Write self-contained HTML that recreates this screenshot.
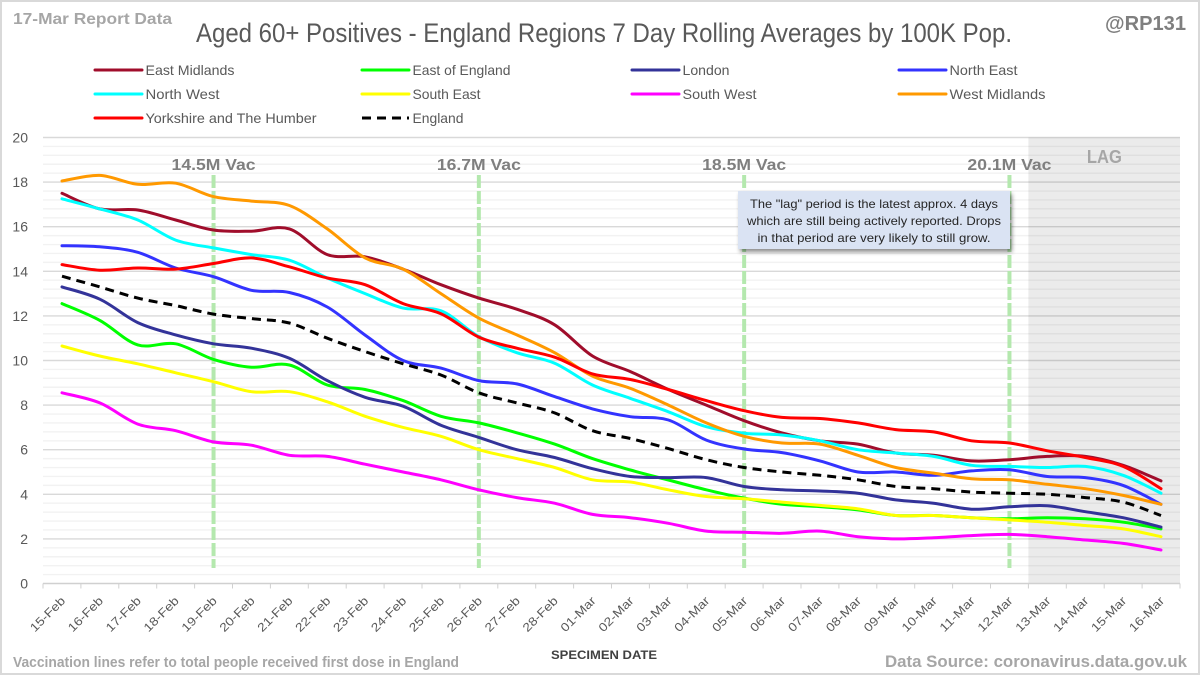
<!DOCTYPE html>
<html lang="en">
<head>
<meta charset="utf-8">
<title>Aged 60+ Positives - England Regions</title>
<style>
html,body{margin:0;padding:0;background:#fff;width:1200px;height:675px;overflow:hidden}
svg{display:block}
text{font-family:"Liberation Sans",sans-serif}
</style>
</head>
<body>
<svg id="chart" xmlns="http://www.w3.org/2000/svg" width="1200" height="675" viewBox="0 0 1200 675">
  <defs>
    <filter id="soft" x="-20%" y="-20%" width="140%" height="140%"><feGaussianBlur stdDeviation="2"/></filter>
    <filter id="boxshadow" x="-10%" y="-20%" width="120%" height="150%"><feGaussianBlur stdDeviation="2"/></filter>
  </defs>
  <rect x="1" y="1" width="1198" height="673" fill="#fff" stroke="#d9d9d9" stroke-width="2"/>
  <g id="grid"></g>
  <g id="lag"></g>
  <g id="axes"></g>
  <g id="vac"></g>
  <g id="series"></g>

  <text x="13" y="24" font-size="16" font-weight="bold" fill="#a6a6a6" textLength="159" lengthAdjust="spacingAndGlyphs">17-Mar Report Data</text>
  <text x="196" y="42" font-size="27" fill="#595959" textLength="816" lengthAdjust="spacingAndGlyphs">Aged 60+ Positives - England Regions 7 Day Rolling Averages by 100K Pop.</text>
  <text x="1186" y="30" text-anchor="end" font-size="20" font-weight="bold" fill="#7f7f7f" textLength="81" lengthAdjust="spacingAndGlyphs">@RP131</text>

  <g id="legend"></g>

  <g>
    <rect x="740" y="194" width="272" height="58" fill="#000" opacity="0.45" filter="url(#boxshadow)"/>
    <rect x="738" y="191" width="272" height="58" fill="#dae3f3"/>
    <text x="874" y="208" text-anchor="middle" font-size="12" fill="#262626" textLength="248" lengthAdjust="spacingAndGlyphs">The "lag" period is the latest approx. 4 days</text>
    <text x="874" y="225" text-anchor="middle" font-size="12" fill="#262626" textLength="254" lengthAdjust="spacingAndGlyphs">which are still being actively reported. Drops</text>
    <text x="874" y="242" text-anchor="middle" font-size="12" fill="#262626" textLength="233" lengthAdjust="spacingAndGlyphs">in that period are very likely to still grow.</text>
  </g>

  <text x="604" y="659" text-anchor="middle" font-size="12" font-weight="bold" fill="#404040" textLength="106" lengthAdjust="spacingAndGlyphs">SPECIMEN DATE</text>
  <text x="13" y="667" font-size="14.5" font-weight="bold" fill="#a6a6a6" textLength="446" lengthAdjust="spacingAndGlyphs">Vaccination lines refer to total people received first dose in England</text>
  <text x="1187" y="667" text-anchor="end" font-size="17" font-weight="bold" fill="#a6a6a6" textLength="302" lengthAdjust="spacingAndGlyphs">Data Source: coronavirus.data.gov.uk</text>
</svg>
<script>
const dates = ["15-Feb","16-Feb","17-Feb","18-Feb","19-Feb","20-Feb","21-Feb","22-Feb","23-Feb","24-Feb","25-Feb","26-Feb","27-Feb","28-Feb","01-Mar","02-Mar","03-Mar","04-Mar","05-Mar","06-Mar","07-Mar","08-Mar","09-Mar","10-Mar","11-Mar","12-Mar","13-Mar","14-Mar","15-Mar","16-Mar"];
const yTicks = [0,2,4,6,8,10,12,14,16,18,20];
const eastMidlands = [17.5,16.8,16.75,16.3,15.85,15.8,15.9,14.75,14.65,14.1,13.4,12.8,12.3,11.6,10.2,9.5,8.7,8.0,7.3,6.75,6.4,6.25,5.85,5.75,5.5,5.55,5.7,5.7,5.3,4.6];
const eastOfEngland = [12.55,11.8,10.7,10.75,10.05,9.7,9.8,8.9,8.7,8.2,7.5,7.2,6.76,6.25,5.6,5.09,4.64,4.2,3.83,3.55,3.45,3.3,3.05,3.05,2.95,2.9,2.95,2.9,2.75,2.45];
const london = [13.3,12.75,11.7,11.15,10.75,10.55,10.1,9.1,8.35,7.95,7.1,6.55,6.0,5.65,5.15,4.8,4.75,4.75,4.35,4.2,4.15,4.05,3.75,3.6,3.33,3.44,3.49,3.22,2.95,2.53];
const northEast = [15.15,15.1,14.85,14.15,13.76,13.15,13.05,12.4,11.14,10.0,9.66,9.1,8.95,8.38,7.83,7.48,7.33,6.43,6.03,5.87,5.5,5.0,5.0,4.85,5.05,5.1,4.8,4.75,4.4,3.55];
const northWest = [17.25,16.8,16.3,15.4,15.05,14.75,14.5,13.7,13.0,12.35,12.23,11.07,10.35,9.88,8.9,8.3,7.7,7.03,6.74,6.66,6.4,6.0,5.85,5.7,5.3,5.25,5.2,5.25,4.85,4.05];
const southEast = [10.65,10.2,9.85,9.45,9.05,8.6,8.6,8.15,7.5,7.0,6.6,6.0,5.6,5.2,4.65,4.55,4.2,3.9,3.8,3.65,3.5,3.35,3.05,3.05,2.95,2.85,2.75,2.6,2.45,2.1];
const southWest = [8.55,8.1,7.15,6.85,6.35,6.2,5.75,5.7,5.35,5.0,4.65,4.2,3.85,3.6,3.1,2.95,2.7,2.35,2.3,2.25,2.35,2.1,2.0,2.05,2.15,2.2,2.1,1.95,1.8,1.5];
const westMidlands = [18.05,18.3,17.9,17.95,17.35,17.15,16.95,15.9,14.6,14.1,13.0,11.9,11.15,10.35,9.3,8.75,8.0,7.2,6.6,6.3,6.25,5.75,5.2,4.95,4.7,4.65,4.45,4.25,3.95,3.55];
const yorkshire = [14.3,14.05,14.15,14.1,14.35,14.6,14.2,13.7,13.4,12.55,12.1,11.05,10.55,10.15,9.4,9.15,8.7,8.2,7.75,7.45,7.4,7.2,6.9,6.8,6.4,6.3,5.95,5.65,5.25,4.25];
const england = [13.78,13.3,12.8,12.46,12.08,11.88,11.68,11.0,10.4,9.85,9.35,8.55,8.1,7.65,6.85,6.5,6.05,5.55,5.2,5.0,4.85,4.65,4.35,4.25,4.1,4.05,4.0,3.85,3.65,3.05];
const seriesNames = ["East Midlands","East of England","London","North East","North West","South East","South West","West Midlands","Yorkshire and The Humber","England"];
const seriesValues = [eastMidlands,eastOfEngland,london,northEast,northWest,southEast,southWest,westMidlands,yorkshire,england];
const seriesColors = ["#a00d2b","#00ff00","#333399","#3333ff","#00ffff","#ffff00","#ff00ff","#ff9900","#ff0000","#000000"];
const vacLabels = ["14.5M Vac","16.7M Vac","18.5M Vac","20.1M Vac"];
const vacDates = ["19-Feb","26-Feb","05-Mar","12-Mar"];
const lagStart = "13-Mar";

const NS = "http://www.w3.org/2000/svg";
const plot = {left:43, right:1180, top:137.5, bottom:583.5, yMax:20};
const bandW = (plot.right - plot.left) / dates.length;
function xPos(i){ return plot.left + bandW * (i + 0.5); }
function yPos(v){ return plot.bottom - (v / plot.yMax) * (plot.bottom - plot.top); }
function make(tag, attrs, parent){
  const e = document.createElementNS(NS, tag);
  for (const k in attrs) e.setAttribute(k, attrs[k]);
  parent.appendChild(e);
  return e;
}
function smoothPath(vals){
  const p = vals.map((v,i)=>[xPos(i), yPos(v)]);
  let d = "M" + p[0][0].toFixed(1) + " " + p[0][1].toFixed(1);
  for (let i = 0; i < p.length - 1; i++){
    const a = p[Math.max(i-1,0)], b = p[i], c = p[i+1], e = p[Math.min(i+2,p.length-1)];
    const c1x = b[0] + (c[0]-a[0])/6, c1y = b[1] + (c[1]-a[1])/6;
    const c2x = c[0] - (e[0]-b[0])/6, c2y = c[1] - (e[1]-b[1])/6;
    d += "C" + c1x.toFixed(1) + " " + c1y.toFixed(1) + " " + c2x.toFixed(1) + " " + c2y.toFixed(1) + " " + c[0].toFixed(1) + " " + c[1].toFixed(1);
  }
  return d;
}

// gridlines: major at each y tick, four minor lines in between
const gridG = document.getElementById("grid");
yTicks.forEach((t, idx) => {
  if (t !== 0) {
    const major = make("line", {x1:plot.left, x2:plot.right, y1:yPos(t), y2:yPos(t), stroke:"#d9d9d9", "stroke-width":1.4}, gridG);
    
    
  }
  if (idx < yTicks.length - 1) {
    const step = (yTicks[idx+1] - t) / 5;
    for (let m = 1; m < 5; m++) {
      const minor = make("line", {x1:plot.left, x2:plot.right, y1:yPos(t + m*step), y2:yPos(t + m*step), stroke:"#f2f2f2", "stroke-width":1.4}, gridG);
      
      
    }
  }
});

// lag band
const lagG = document.getElementById("lag");
const lagX = plot.left + bandW * dates.indexOf(lagStart);
const lagRect = make("rect", {x:lagX, y:plot.top, width:plot.right-lagX, height:plot.bottom-plot.top, fill:"#000", "fill-opacity":0.08}, lagG);


const lagText = make("text", {x:lagX + 76, y:163, "text-anchor":"middle", "font-size":18, "font-weight":"bold", fill:"#a6a6a6", textLength:35, lengthAdjust:"spacingAndGlyphs"}, lagG);
lagText.textContent = "LAG";



// axes
const axG = document.getElementById("axes");
const xAxis = make("line", {x1:plot.left, x2:plot.right, y1:plot.bottom, y2:plot.bottom, stroke:"#d0d0d0", "stroke-width":1.5}, axG);


for (let i = 0; i <= dates.length; i++) {
  const tx = plot.left + bandW * i;
  const tick = make("line", {x1:tx, x2:tx, y1:plot.bottom, y2:plot.bottom+5, stroke:"#d0d0d0", "stroke-width":1}, axG);
  
  
}
yTicks.forEach(t => {
  const yl = make("text", {x:28, y:yPos(t)+5, "text-anchor":"end", "font-size":14, fill:"#595959"}, axG);
  yl.textContent = t;
  
  
});
dates.forEach((d, i) => {
  const lx = xPos(i) + 4, ly = plot.bottom + 18;
  const xl = make("text", {x:lx, y:ly, "text-anchor":"end", "font-size":12, fill:"#595959", transform:"rotate(-45 " + lx + " " + ly + ")", textLength:44, lengthAdjust:"spacingAndGlyphs"}, axG);
  xl.textContent = d;
  
  
});

// vaccination markers
const vacG = document.getElementById("vac");
vacDates.forEach((d, i) => {
  const vx = xPos(dates.indexOf(d));
  const shadow = make("line", {x1:vx+3, x2:vx+3, y1:177, y2:570, stroke:"#000", "stroke-width":4, opacity:0.12, filter:"url(#soft)"}, vacG);
  
  
  const vl = make("line", {x1:vx, x2:vx, y1:175, y2:568, stroke:"#b4e8ae", "stroke-width":4, "stroke-dasharray":"13 3"}, vacG);
  
  
  const vt = make("text", {x:vx, y:170, "text-anchor":"middle", "font-size":16, "font-weight":"bold", fill:"#7f7f7f", textLength:84, lengthAdjust:"spacingAndGlyphs"}, vacG);
  vt.textContent = vacLabels[i];
  
  
});

// series
const serG = document.getElementById("series");
seriesValues.forEach((vals, i) => {
  const attrs = {d:smoothPath(vals), fill:"none", stroke:seriesColors[i], "stroke-width":3, "stroke-linecap":"round", "stroke-linejoin":"round"};
  if (seriesNames[i] === "England") { attrs["stroke-dasharray"] = "9 6"; attrs["stroke-linecap"] = "butt"; }
  const line = make("path", attrs, serG);
  
  
  line.setAttribute('aria-label', seriesNames[i]);
});

// legend
const legG = document.getElementById("legend");
const legCols = [95, 362, 632, 899];
const legRows = [70, 94, 118];
const legWidths = [89,98,47,68,74,68,74,96,171,51];
seriesNames.forEach((name, i) => {
  const cx = legCols[i % 4], cy = legRows[Math.floor(i / 4)];
  const attrs = {x1:cx, x2:cx+47, y1:cy, y2:cy, stroke:seriesColors[i], "stroke-width":3, "stroke-linecap":"round"};
  if (name === "England") { attrs["stroke-dasharray"] = "9 6"; attrs["stroke-linecap"] = "butt"; }
  const key = make("line", attrs, legG);
  
  
  const lab = make("text", {x:cx+50.5, y:cy+5, "font-size":14, fill:"#595959", textLength:legWidths[i], lengthAdjust:"spacingAndGlyphs"}, legG);
  lab.textContent = name;
  
  
});
</script>
</body>
</html>
